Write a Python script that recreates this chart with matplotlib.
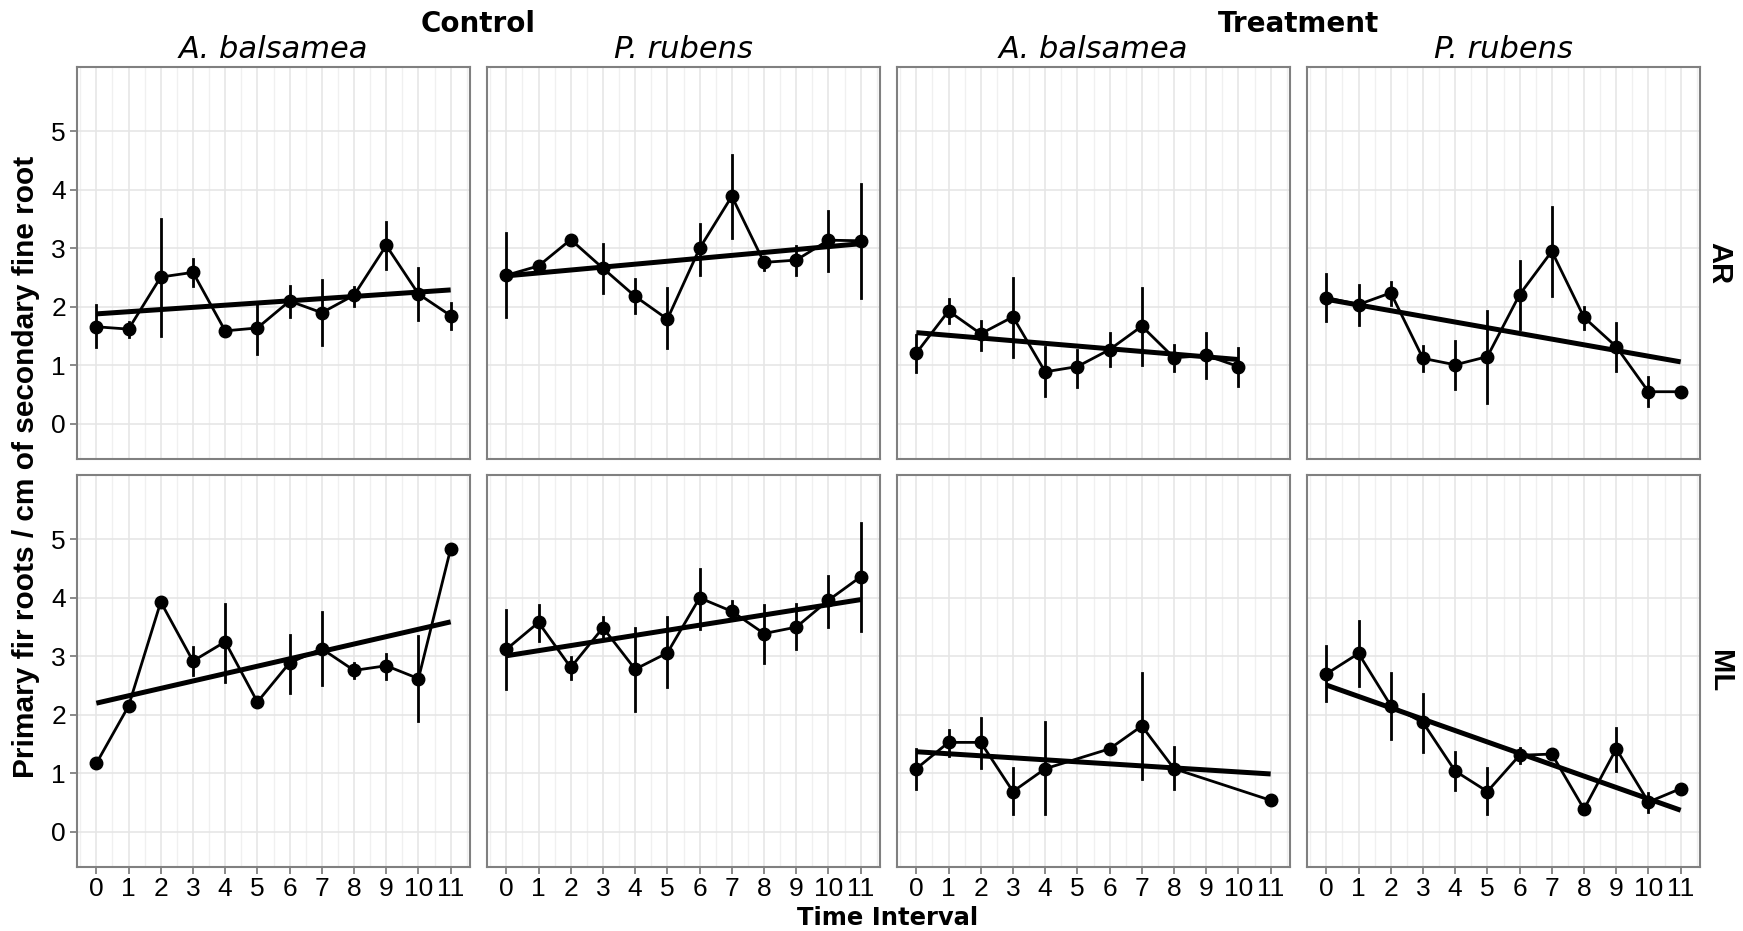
import numpy as np
import matplotlib.pyplot as plt

# time intervals on the x axis
intervals = list(range(12))
tick_labels = [str(i) for i in intervals]
treatments = ['Control', 'Treatment']
species = ['A. balsamea', 'P. rubens']
sites = ['AR', 'ML']

N = None

# Control, A. balsamea, AR
cba_ar = [1.66, 1.62, 2.51, 2.59, 1.59, 1.64, 2.10, 1.90, 2.20, 3.05, 2.22, 1.85]
cba_ar_lo = [1.31, 1.48, 1.50, 2.36, N, 1.19, 1.82, 1.35, 2.01, 2.64, 1.77, 1.63]
cba_ar_hi = [2.03, 1.75, 3.51, 2.82, N, 2.03, 2.35, 2.46, 2.34, 3.45, 2.66, 2.07]

# Control, P. rubens, AR
cpr_ar = [2.54, 2.70, 3.15, 2.66, 2.18, 1.79, 3.00, 3.89, 2.76, 2.80, 3.14, 3.13]
cpr_ar_lo = [1.82, 2.63, N, 2.24, 1.89, 1.29, 2.55, 3.17, 2.63, 2.55, 2.61, 2.16]
cpr_ar_hi = [3.27, 2.77, N, 3.07, 2.47, 2.32, 3.42, 4.60, 2.86, 3.04, 3.64, 4.10]

# Treatment, A. balsamea, AR
tba_ar = [1.21, 1.93, 1.54, 1.83, 0.89, 0.98, 1.27, 1.67, 1.13, 1.17, 0.98, N]
tba_ar_lo = [0.89, 1.72, 1.26, 1.15, 0.47, 0.63, 0.99, 1.01, 0.90, 0.78, 0.65, N]
tba_ar_hi = [1.52, 2.13, 1.76, 2.50, 1.32, 1.26, 1.55, 2.32, 1.35, 1.55, 1.29, N]

# Treatment, P. rubens, AR
tpr_ar = [2.16, 2.04, 2.24, 1.12, 1.01, 1.15, 2.21, 2.95, 1.82, 1.32, 0.55, 0.55]
tpr_ar_lo = [1.76, 1.69, 2.03, 0.90, 0.59, 0.36, 1.63, 2.18, 1.63, 0.91, 0.31, N]
tpr_ar_hi = [2.56, 2.38, 2.43, 1.33, 1.42, 1.93, 2.78, 3.71, 2.00, 1.72, 0.80, N]

# Control, A. balsamea, ML
cba_ml = [1.17, 2.15, 3.93, 2.92, 3.25, 2.22, 2.89, 3.13, 2.76, 2.84, 2.62, 4.84]
cba_ml_lo = [N, N, N, 2.69, 2.57, N, 2.38, 2.51, 2.63, 2.62, 1.89, N]
cba_ml_hi = [N, N, N, 3.16, 3.90, N, 3.36, 3.76, 2.88, 3.04, 3.35, N]

# Control, P. rubens, ML
cpr_ml = [3.12, 3.58, 2.81, 3.49, 2.78, 3.06, 4.00, 3.77, 3.39, 3.50, 3.96, 4.36]
cpr_ml_lo = [2.45, 3.26, 2.61, 3.32, 2.07, 2.47, 3.47, 3.66, 2.89, 3.12, 3.50, 3.43]
cpr_ml_hi = [3.79, 3.87, 2.99, 3.67, 3.49, 3.67, 4.49, 3.94, 3.88, 3.90, 4.37, 5.28]

# Treatment, A. balsamea, ML
tba_ml = [1.08, 1.53, 1.53, 0.69, 1.08, N, 1.42, 1.81, 1.08, N, N, 0.54]
tba_ml_lo = [0.74, 1.30, 1.09, 0.30, 0.30, N, N, 0.90, 0.73, N, N, N]
tba_ml_hi = [1.41, 1.75, 1.95, 1.09, 1.87, N, N, 2.72, 1.45, N, N, N]

# Treatment, P. rubens, ML
tpr_ml = [2.70, 3.05, 2.16, 1.87, 1.04, 0.69, 1.31, 1.33, 0.39, 1.42, 0.51, 0.74]
tpr_ml_lo = [2.23, 2.49, 1.59, 1.37, 0.71, 0.31, 1.18, 1.25, N, 1.04, 0.34, N]
tpr_ml_hi = [3.18, 3.60, 2.72, 2.35, 1.36, 1.09, 1.44, 1.40, N, 1.78, 0.67, N]

# linear trend: value at x=0, value at end, end x
trend_cba_ar = (1.88, 2.29, 11)
trend_cpr_ar = (2.53, 3.08, 11)
trend_tba_ar = (1.56, 1.10, 10)
trend_tpr_ar = (2.13, 1.06, 11)
trend_cba_ml = (2.20, 3.59, 11)
trend_cpr_ml = (3.01, 3.97, 11)
trend_tba_ml = (1.37, 0.99, 11)
trend_tpr_ml = (2.51, 0.37, 11)

panels = [
    [(cba_ar, cba_ar_lo, cba_ar_hi, trend_cba_ar), (cpr_ar, cpr_ar_lo, cpr_ar_hi, trend_cpr_ar),
     (tba_ar, tba_ar_lo, tba_ar_hi, trend_tba_ar), (tpr_ar, tpr_ar_lo, tpr_ar_hi, trend_tpr_ar)],
    [(cba_ml, cba_ml_lo, cba_ml_hi, trend_cba_ml), (cpr_ml, cpr_ml_lo, cpr_ml_hi, trend_cpr_ml),
     (tba_ml, tba_ml_lo, tba_ml_hi, trend_tba_ml), (tpr_ml, tpr_ml_lo, tpr_ml_hi, trend_tpr_ml)],
]

fig = plt.figure(figsize=(17.43, 9.31), dpi=100)

W, H = 1743, 931
left0, pw, step = 77, 393, 410
row_top = [67, 475]
ph = 392

for r in range(2):
    for c in range(4):
        mean, lo, hi, trend = panels[r][c]
        ax = fig.add_axes([(left0 + c * step) / W, 1 - (row_top[r] + ph) / H, pw / W, ph / H])

        xs = [x for x, m in zip(intervals, mean) if m is not None]
        ms = [m for m in mean if m is not None]
        ax.plot(xs, ms, color='black', lw=2, zorder=3)
        ax.plot(xs, ms, 'o', color='black', ms=9, zorder=4)
        for x, l, h in zip(intervals, lo, hi):
            if l is not None:
                ax.plot([x, x], [l, h], color='black', lw=2, zorder=3)
        ax.plot([0, trend[2]], [trend[0], trend[1]], color='black', lw=3.6,
                solid_capstyle='butt', zorder=5)

        ax.set_xlim(-0.6, 11.6)
        ax.set_ylim(-0.6, 6.1)
        ax.set_xticks(intervals)
        ax.set_xticks(np.arange(-0.5, 11.6, 1), minor=True)
        ax.set_yticks(range(6))
        ax.grid(which='major', color='#e6e6e6', lw=1.2)
        ax.grid(which='minor', axis='x', color='#f0f0f0', lw=1.0)
        ax.set_axisbelow(True)
        for s in ax.spines.values():
            s.set_color('#808080')
            s.set_linewidth(1.5)
        ax.tick_params(which='minor', length=0)
        ax.tick_params(which='major', color='#808080', length=5, width=1.3,
                       labelsize=19, pad=3)
        ax.tick_params(axis='x', pad=2)
        if r == 1:
            ax.set_xticklabels(tick_labels, fontfamily='Liberation Sans')
        else:
            ax.tick_params(axis='x', length=0, labelbottom=False)
        if c == 0:
            ax.set_yticklabels([str(v) for v in range(6)], fontfamily='Liberation Sans')
        else:
            ax.tick_params(axis='y', length=0, labelleft=False)

        if r == 0:
            xc = (left0 + c * step + pw / 2) / W
            fig.text(xc, 1 - 49 / H, species[c % 2], ha='center', va='center',
                     fontsize=22, style='italic', fontfamily='DejaVu Sans')
        if c == 3:
            ax.text(1.05, 0.5, sites[r], transform=ax.transAxes, rotation=-90,
                    ha='center', va='center', fontsize=21, fontweight='bold',
                    fontfamily='Liberation Sans')

for i, t in enumerate(treatments):
    xc = (left0 + 2 * i * step + (left0 + (2 * i + 1) * step + pw)) / 2
    fig.text(xc / W, 1 - 24 / H, t, ha='center', va='center', fontsize=20,
             fontweight='bold', fontfamily='DejaVu Sans')

fig.text(888 / W, 1 / H, 'Time Interval', ha='center', va='bottom',
         fontsize=17.5, fontweight='bold', fontfamily='DejaVu Sans')
fig.text(26 / W, 1 - 467 / H, 'Primary fir roots / cm of secondary fine root',
         ha='center', va='center', rotation=90, fontsize=21.5, fontweight='bold',
         fontfamily='Liberation Sans')

fig.savefig('out.png', dpi=100)
